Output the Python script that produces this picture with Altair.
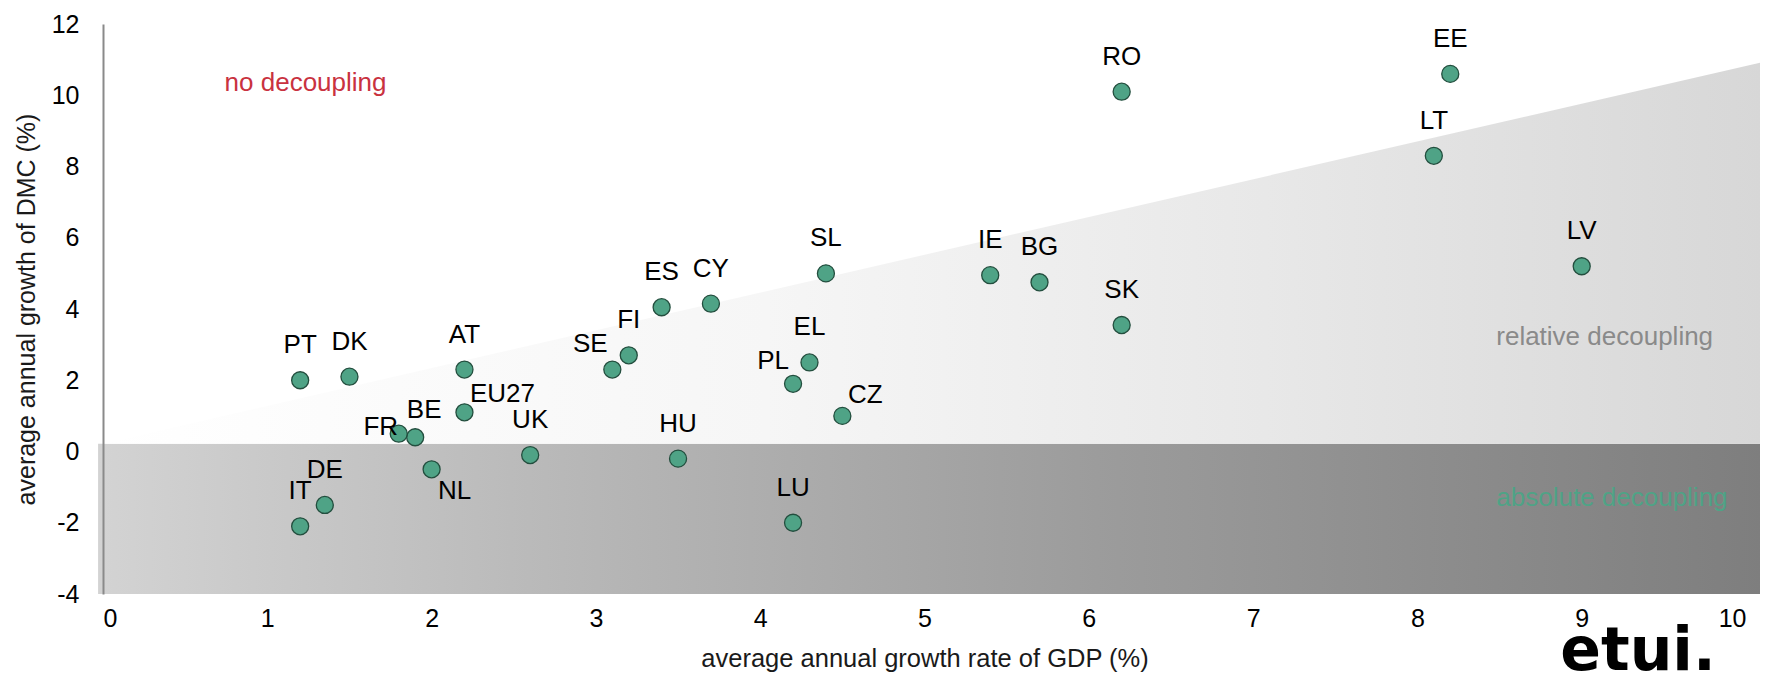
import altair as alt
import pandas as pd

# ---- data ----
countries = ["PT", "DK", "AT", "EU27", "BE", "FR", "NL", "UK", "DE", "IT",
             "SE", "FI", "ES", "CY", "HU", "LU", "PL", "EL", "CZ", "SL",
             "IE", "BG", "SK", "RO", "EE", "LT", "LV"]
gdp_growth = [1.2, 1.5, 2.2, 2.2, 1.9, 1.8, 2.0, 2.6, 1.35, 1.2,
              3.1, 3.2, 3.4, 3.7, 3.5, 4.2, 4.2, 4.3, 4.5, 4.4,
              5.4, 5.7, 6.2, 6.2, 8.2, 8.1, 9.0]
dmc_growth = [2.0, 2.1, 2.3, 1.1, 0.4, 0.5, -0.5, -0.1, -1.5, -2.1,
              2.3, 2.7, 4.05, 4.15, -0.2, -2.0, 1.9, 2.5, 1.0, 5.0,
              4.95, 4.75, 3.55, 10.1, 10.6, 8.3, 5.2]

x_ticks = [0, 1, 2, 3, 4, 5, 6, 7, 8, 9, 10]
y_ticks = [-4, -2, 0, 2, 4, 6, 8, 10, 12]

# background zones (data units)
band_x = [-0.03, 10.1]
band_y = [-4.0, 0.22]
wedge_x = [0.0, 10.1]
wedge_top = [0.22, 10.93]
wedge_base = [0.22, 0.22]

zone_text = ["no decoupling", "relative decoupling", "absolute decoupling"]
zone_x = [0.74, 8.48, 8.48]
zone_y = [10.35, 3.22, -1.3]
zone_color = ["#c9323f", "#8a8a8a", "#4fa386"]

# label offsets (pixels) — style only
default_off = (0, -35)
label_off = {"EU27": (38, -18), "BE": (9, -27), "FR": (-18, -7),
             "NL": (23, 22), "PL": (-20, -23), "CZ": (23, -21),
             "SE": (-22, -26)}

FONT = "Liberation Sans"

pts = pd.DataFrame({"country": countries, "gdp": gdp_growth, "dmc": dmc_growth})

xscale = alt.Scale(domain=[0, 10], nice=False, zero=False)
yscale = alt.Scale(domain=[-4, 12], nice=False, zero=False)

band = alt.Chart(pd.DataFrame({"x": [band_x[0]], "x2": [band_x[1]],
                               "y": [band_y[0]], "y2": [band_y[1]]})).mark_rect(
    color=alt.LinearGradient(
        gradient="linear", x1=0, x2=1, y1=0, y2=0,
        stops=[alt.GradientStop(color="#d3d3d3", offset=0),
               alt.GradientStop(color="#b6b6b6", offset=0.3),
               alt.GradientStop(color="#9c9c9c", offset=0.6),
               alt.GradientStop(color="#7e7e7e", offset=1)]),
).encode(
    x=alt.X("x:Q", scale=xscale,
            axis=alt.Axis(values=x_ticks, labelExpr="datum.value + ''",
                          title="average annual growth rate of GDP (%)",
                          grid=False, ticks=False, domain=False, labelPadding=12,
                          labelFontSize=25, titleFontSize=25.5, labelFont=FONT, titleFont=FONT,
                          labelColor="#000000", titleColor="#1a1a1a", titleFontWeight="normal",
                          titlePadding=15)),
    x2="x2:Q",
    y=alt.Y("y:Q", scale=yscale,
            axis=alt.Axis(values=y_ticks, labelExpr="datum.value + ''",
                          title="average annual growth of DMC (%)",
                          grid=False, ticks=False, tickSize=0, labelPadding=24,
                          domainColor="#8a8a8a", domainWidth=2,
                          labelFontSize=25, titleFontSize=25, labelFont=FONT, titleFont=FONT,
                          labelColor="#000000", titleColor="#1a1a1a", titleFontWeight="normal",
                          titlePadding=12, zindex=1)),
    y2="y2:Q",
)

wedge = alt.Chart(pd.DataFrame({"x": wedge_x, "top": wedge_top, "base": wedge_base})).mark_area(
    color=alt.LinearGradient(
        gradient="linear", x1=0, x2=1, y1=0, y2=0,
        stops=[alt.GradientStop(color="#ffffff", offset=0),
               alt.GradientStop(color="#f6f6f6", offset=0.4),
               alt.GradientStop(color="#e8e8e8", offset=0.7),
               alt.GradientStop(color="#d7d7d7", offset=1)]),
    opacity=1,
).encode(
    x=alt.X("x:Q", scale=xscale),
    y=alt.Y("top:Q", scale=yscale),
    y2="base:Q",
)

zones = alt.Chart(pd.DataFrame({"t": zone_text, "x": zone_x, "y": zone_y, "c": zone_color})).mark_text(
    align="left", baseline="middle", fontSize=26, font=FONT,
).encode(
    x=alt.X("x:Q", scale=xscale),
    y=alt.Y("y:Q", scale=yscale),
    text="t:N",
    color=alt.Color("c:N", scale=None),
)

points = alt.Chart(pts).mark_circle(
    size=290, color="#4fa386", stroke="#234e3e", strokeWidth=1.3, opacity=1,
).encode(
    x=alt.X("gdp:Q", scale=xscale),
    y=alt.Y("dmc:Q", scale=yscale),
)

# group labels by offset
groups = {}
for c in countries:
    groups.setdefault(label_off.get(c, default_off), []).append(c)

label_layers = []
for (dx, dy), members in groups.items():
    label_layers.append(
        alt.Chart(pts).transform_filter(
            alt.FieldOneOfPredicate(field="country", oneOf=members)
        ).mark_text(
            dx=dx, dy=dy, fontSize=26, font=FONT, color="#000000",
            align="center", baseline="middle",
        ).encode(
            x=alt.X("gdp:Q", scale=xscale),
            y=alt.Y("dmc:Q", scale=yscale),
            text="country:N",
        )
    )

logo = alt.Chart(pd.DataFrame({"t": ["etui."]})).mark_text(
    font="DejaVu Sans", fontWeight=900, fontSize=60, color="#000000",
    align="center", baseline="alphabetic",
).encode(
    x=alt.value(1535), y=alt.value(646), text="t:N",
)

chart = alt.layer(band, wedge, zones, points, *label_layers, logo).properties(
    width=1643, height=570,
    autosize=alt.AutoSizeParams(type="none"),
    padding={"left": 95, "top": 16, "right": 14, "bottom": 79},
).configure_view(stroke=None)

chart.save("out.html", embed_options={"renderer": "svg", "actions": False})
